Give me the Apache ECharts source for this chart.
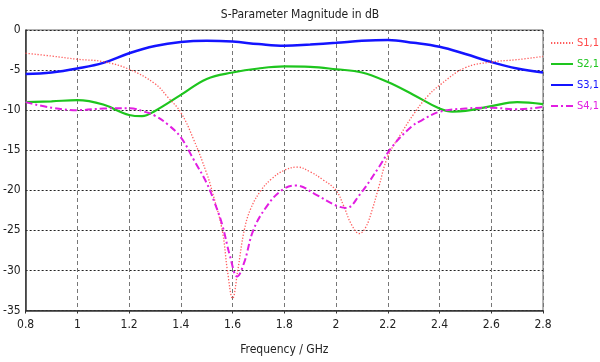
<!DOCTYPE html>
<html>
<head>
<meta charset="utf-8">
<script src="https://cdn.jsdelivr.net/npm/echarts@6/dist/echarts.min.js"></script>
<style>html,body{margin:0;padding:0;background:#fff}#c{width:600px;height:362px}</style>
</head>
<body>
<div id="c"></div>
<script>
var seriesNames = ['S1,1', 'S2,1', 'S3,1', 'S4,1'];
var xTicks = [0.8, 1, 1.2, 1.4, 1.6, 1.8, 2, 2.2, 2.4, 2.6, 2.8];
var yTicks = [0, -5, -10, -15, -20, -25, -30, -35];

var f11 = [0.8,0.9,1.0,1.1,1.2,1.3,1.35,1.4,1.45,1.5,1.52,1.56,1.58,1.6,1.62,1.645,1.67,1.71,1.75,1.8,1.85,1.9,1.95,2.0,2.03,2.06,2.09,2.115,2.14,2.165,2.2,2.25,2.3,2.35,2.4,2.5,2.6,2.7,2.8];
var s11 = [-2.9,-3.25,-3.65,-3.95,-4.9,-6.7,-8.4,-10.3,-13.7,-17.9,-20,-25,-30,-33.5,-30,-25,-22.3,-20,-18.6,-17.5,-17.1,-17.7,-18.7,-20.0,-22.0,-24.3,-25.4,-24.6,-22.4,-19.6,-15.8,-13.0,-10.5,-8.4,-6.9,-4.7,-4.0,-3.7,-3.3];

var f21 = [0.8,0.9,1.0,1.1,1.2,1.25,1.3,1.4,1.5,1.6,1.7,1.8,1.9,2.0,2.1,2.2,2.3,2.4,2.45,2.5,2.6,2.7,2.8];
var s21 = [-9.0,-8.9,-8.75,-9.3,-10.6,-10.75,-10.1,-8.1,-6.1,-5.3,-4.8,-4.55,-4.6,-4.9,-5.3,-6.5,-8.1,-9.8,-10.2,-10.1,-9.5,-9.0,-9.25];

var f31 = [0.8,0.9,1.0,1.1,1.2,1.3,1.4,1.5,1.6,1.7,1.8,1.9,2.0,2.1,2.2,2.3,2.4,2.5,2.6,2.7,2.8];
var s31 = [-5.5,-5.3,-4.8,-4.1,-2.9,-2.0,-1.5,-1.35,-1.45,-1.75,-1.95,-1.8,-1.6,-1.35,-1.25,-1.6,-2.1,-3.0,-4.0,-4.8,-5.3];

var f41 = [0.8,0.9,1.0,1.1,1.2,1.26,1.3,1.35,1.4,1.45,1.5,1.53,1.56,1.59,1.618,1.645,1.68,1.73,1.79,1.846,1.92,2.0,2.04,2.09,2.166,2.216,2.29,2.33,2.4,2.5,2.6,2.7,2.8];
var s41 = [-9.0,-9.7,-10.0,-9.8,-9.75,-10.2,-10.7,-11.8,-13.4,-16.2,-19.1,-21.5,-24.3,-28.2,-30.75,-29.0,-25,-22.1,-20.0,-19.4,-20.5,-21.9,-22.2,-20.6,-17.1,-14.6,-12.1,-11.3,-10.2,-9.8,-9.7,-9.9,-9.6];

function pairs(fx, vy) { return fx.map(function (f, i) { return [f, vy[i]]; }); }

var colors = ['#ff4a4a', '#1ec51e', '#1414ff', '#e21ee2'];
var FONT = "'DejaVu Sans Condensed', 'DejaVu Sans', sans-serif";

var chart = echarts.init(document.getElementById('c'), null, {renderer: 'canvas'});
chart.setOption({
  backgroundColor: '#ffffff',
  animation: false,
  title: {
    text: 'S-Parameter Magnitude in dB',
    left: 'center',
    top: 4,
    textStyle: {fontSize: 12, fontWeight: 'normal', color: '#222', fontFamily: FONT}
  },
  legend: {
    orient: 'vertical',
    left: 550,
    top: 36,
    padding: 0,
    itemWidth: 22,
    itemHeight: 14,
    itemGap: 7,
    itemStyle: {opacity: 0},
    textStyle: {fontSize: 11, fontFamily: FONT, lineHeight: 14, padding: [0, 0, 0, -1]},
    data: seriesNames.map(function (n, i) { return {name: n, textStyle: {color: colors[i]}}; })
  },
  grid: {
    left: 19, right: 57, top: 30, bottom: 51.5,
    show: true, borderColor: '#666', borderWidth: 1, backgroundColor: '#fff'
  },
  xAxis: {
    type: 'value',
    min: 0.8, max: 2.8, interval: 0.2,
    name: 'Frequency / GHz',
    nameLocation: 'middle',
    nameGap: 33,
    nameTextStyle: {fontSize: 12, color: '#222', fontFamily: FONT},
    axisLine: {show: true, onZero: false, lineStyle: {color: '#333', width: 1.5}},
    axisTick: {show: true, length: 3, lineStyle: {color: '#333'}},
    axisLabel: {
      margin: 8, fontSize: 12, color: '#222', fontFamily: FONT,
      formatter: function (v) { var r = Math.round(v * 10) / 10; return xTicks.indexOf(r) >= 0 ? String(r) : ''; }
    },
    splitLine: {show: true, lineStyle: {color: '#777', type: [4, 3], width: 1}}
  },
  yAxis: {
    type: 'value',
    min: -35, max: 0, interval: 5,
    axisLine: {show: true, lineStyle: {color: '#333', width: 1.5}},
    axisTick: {show: false},
    axisLabel: {
      margin: 5, fontSize: 12, color: '#222', fontFamily: FONT,
      formatter: function (v) { return yTicks.indexOf(v) >= 0 ? String(v) : ''; }
    },
    splitLine: {show: true, lineStyle: {color: '#222', type: [2, 2], width: 1}}
  },
  series: [
    {name: seriesNames[0], type: 'line', data: pairs(f11, s11), smooth: 0.4, symbol: 'none',
     lineStyle: {color: colors[0], width: 1.3, type: [1.3, 1.7], opacity: 0.9}, itemStyle: {color: colors[0]}, z: 3},
    {name: seriesNames[1], type: 'line', data: pairs(f21, s21), smooth: 0.4, symbol: 'none',
     lineStyle: {color: colors[1], width: 2.2}, itemStyle: {color: colors[1]}, z: 2},
    {name: seriesNames[2], type: 'line', data: pairs(f31, s31), smooth: 0.4, symbol: 'none',
     lineStyle: {color: colors[2], width: 2.5}, itemStyle: {color: colors[2]}, z: 2},
    {name: seriesNames[3], type: 'line', data: pairs(f41, s41), smooth: 0.4, symbol: 'none',
     lineStyle: {color: colors[3], width: 2, type: [7, 3, 2, 3]}, itemStyle: {color: colors[3]}, z: 4}
  ]
});
</script>
</body>
</html>
